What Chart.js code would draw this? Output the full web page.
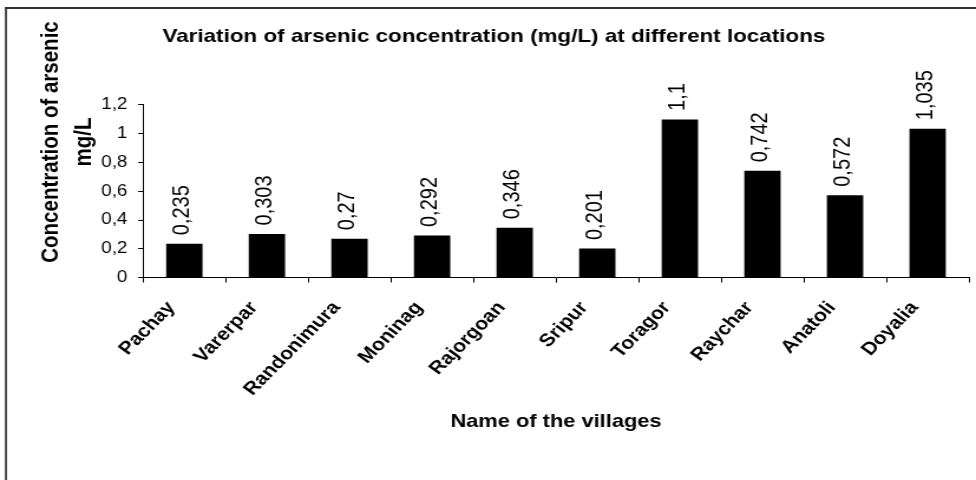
<!DOCTYPE html>
<html>
<head>
<meta charset="utf-8">
<script src="https://cdn.jsdelivr.net/npm/chart.js@4.4.0/dist/chart.umd.min.js"></script>
<style>
    html, body { margin: 0; padding: 0; background: #fff; }
</style>
</head>
<body>
<canvas id="graphic" width="827" height="480" style="width:976px;height:480px"></canvas>
<script>
const villages = ['Pachay', 'Varerpar', 'Randonimura', 'Moninag', 'Rajorgoan',
    'Sripur', 'Toragor', 'Raychar', 'Anatoli', 'Doyalia'];
const arsenic = [0.235, 0.303, 0.27, 0.292, 0.346, 0.201, 1.1, 0.742, 0.572, 1.035];
const yTickLabels = ['0', '0,2', '0,4', '0,6', '0,8', '1', '1,2'];
const chartTitle = 'Variation of arsenic concentration (mg/L) at different locations';
const yTitle = ['Concentration of arsenic', 'mg/L'];
const xTitle = 'Name of the villages';

const fontFamily = '"Liberation Sans", Arial, Helvetica, sans-serif';

// page frame (only the left and top edges are visible in the picture)
const frame = {
    id: 'frame',
    beforeDraw(chart) {
        const ctx = chart.ctx;
        ctx.save();
        ctx.fillStyle = '#333';
        ctx.fillRect(4.2, 7, 1.7, chart.height);
        ctx.fillRect(4.2, 7, chart.width, 2);
        ctx.restore();
    }
};

// y axis title, centred a bit higher than the plot area
const yAxisTitle = {
    id: 'yAxisTitle',
    afterDraw(chart) {
        const ctx = chart.ctx;
        ctx.save();
        ctx.font = 'bold 20.5px ' + fontFamily;
        ctx.fillStyle = '#000';
        ctx.textAlign = 'center';
        ctx.textBaseline = 'middle';
        yTitle.forEach((line, i) => {
            ctx.save();
            ctx.translate(43.5 + i * 28, 142);
            ctx.rotate(-Math.PI / 2);
            ctx.fillText(line, 0, 0);
            ctx.restore();
        });
        ctx.restore();
    }
};

// vertical value labels above each bar
const barLabels = {
    id: 'barLabels',
    afterDatasetsDraw(chart) {
        const ctx = chart.ctx;
        const meta = chart.getDatasetMeta(0);
        ctx.save();
        ctx.font = '20px ' + fontFamily;
        ctx.fillStyle = '#000';
        ctx.textAlign = 'left';
        ctx.textBaseline = 'middle';
        meta.data.forEach((bar, i) => {
            ctx.save();
            ctx.translate(bar.x - 1.5, bar.y - 8.5);
            ctx.rotate(-Math.PI / 2);
            ctx.fillText(String(arsenic[i]).replace('.', ','), 0, 0);
            ctx.restore();
        });
        ctx.restore();
    }
};

new Chart(document.getElementById('graphic'), {
    type: 'bar',
    data: {
        labels: villages,
        datasets: [{
            data: arsenic,
            backgroundColor: '#000',
            borderWidth: 0,
            categoryPercentage: 1,
            barPercentage: 0.44
        }]
    },
    options: {
        responsive: false,
        animation: false,
        layout: { padding: { left: 16, right: 6, top: 0, bottom: 0 } },
        plugins: {
            legend: { display: false },
            tooltip: { enabled: false },
            title: {
                display: true,
                text: chartTitle,
                color: '#000',
                font: { family: fontFamily, size: 19, weight: 'bold', lineHeight: 1.2 },
                padding: { top: 24.9, bottom: 57.3 }
            }
        },
        scales: {
            x: {
                afterFit(scale) { scale.height = 202.5; },
                border: { display: true, color: '#000', width: 1 },
                grid: { display: true, offset: true, drawOnChartArea: false, drawTicks: true, tickLength: 5, color: '#000' },
                ticks: {
                    autoSkip: false,
                    minRotation: 49.7,
                    maxRotation: 49.7,
                    color: '#000',
                    padding: 15,
                    labelOffset: -11,
                    font: { family: fontFamily, size: 18, weight: 'bold' }
                },
                title: {
                    display: true,
                    text: xTitle,
                    color: '#000',
                    font: { family: fontFamily, size: 18.5, weight: 'bold', lineHeight: 1.2 },
                    padding: { top: 0, bottom: 46.9 }
                }
            },
            y: {
                min: 0,
                max: 1.2,
                afterFit(scale) { scale.width = 105.2; },
                border: { display: true, color: '#000', width: 1 },
                grid: { display: true, drawOnChartArea: false, drawTicks: true, tickLength: 4.2, color: '#000' },
                ticks: {
                    stepSize: 0.2,
                    color: '#000',
                    padding: 9,
                    font: { family: fontFamily, size: 16 },
                    callback: (value, index) => yTickLabels[index]
                }
            }
        }
    },
    plugins: [frame, yAxisTitle, barLabels]
});
</script>
</body>
</html>
